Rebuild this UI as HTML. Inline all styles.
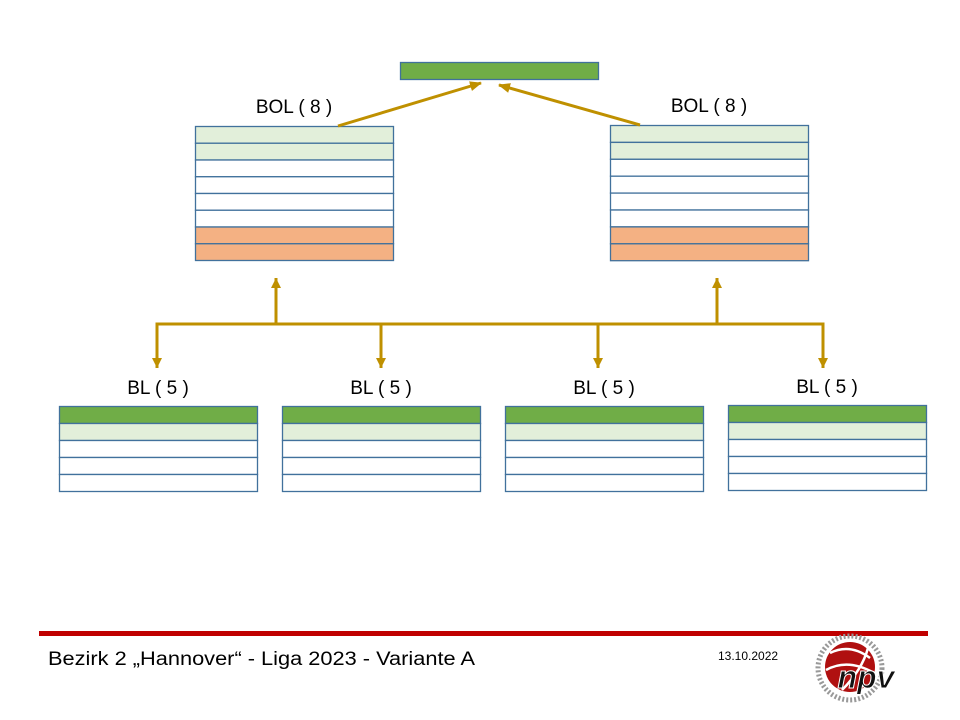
<!DOCTYPE html>
<html><head><meta charset="utf-8"><style>html,body{margin:0;padding:0;background:#fff}svg{display:block}</style></head>
<body>
<svg width="960" height="720" xmlns="http://www.w3.org/2000/svg" font-family="Liberation Sans, DejaVu Sans, sans-serif">
<defs>
<marker id="ah" markerWidth="12" markerHeight="10" refX="11" refY="5" orient="auto" markerUnits="userSpaceOnUse"><path d="M0,0 L12,5 L0,10 z" fill="#BF9000"/></marker>
<marker id="ah2" markerWidth="10" markerHeight="10" refX="10" refY="5" orient="auto" markerUnits="userSpaceOnUse"><path d="M0,0 L10,5 L0,10 z" fill="#BF9000"/></marker>
</defs>
<g stroke="#41719C" stroke-width="1.3">
<rect x="400.5" y="62.5" width="198" height="17" fill="#70AD47"/>
<rect x="195.5" y="126.5" width="198" height="16.75" fill="#E2EFDA"/>
<rect x="195.5" y="143.25" width="198" height="16.75" fill="#E2EFDA"/>
<rect x="195.5" y="160" width="198" height="16.75" fill="#fff"/>
<rect x="195.5" y="176.75" width="198" height="16.75" fill="#fff"/>
<rect x="195.5" y="193.5" width="198" height="16.75" fill="#fff"/>
<rect x="195.5" y="210.25" width="198" height="16.75" fill="#fff"/>
<rect x="195.5" y="227" width="198" height="16.75" fill="#F4B183"/>
<rect x="195.5" y="243.75" width="198" height="16.75" fill="#F4B183"/>
<rect x="610.5" y="125.5" width="198" height="16.9" fill="#E2EFDA"/>
<rect x="610.5" y="142.4" width="198" height="16.9" fill="#E2EFDA"/>
<rect x="610.5" y="159.3" width="198" height="16.9" fill="#fff"/>
<rect x="610.5" y="176.2" width="198" height="16.9" fill="#fff"/>
<rect x="610.5" y="193.1" width="198" height="16.9" fill="#fff"/>
<rect x="610.5" y="210" width="198" height="16.9" fill="#fff"/>
<rect x="610.5" y="226.9" width="198" height="16.9" fill="#F4B183"/>
<rect x="610.5" y="243.8" width="198" height="16.9" fill="#F4B183"/>
<g id="bl">
<rect x="59.5" y="406.5" width="198" height="17" fill="#70AD47"/>
<rect x="59.5" y="423.5" width="198" height="17" fill="#E2EFDA"/>
<rect x="59.5" y="440.5" width="198" height="17" fill="#fff"/>
<rect x="59.5" y="457.5" width="198" height="17" fill="#fff"/>
<rect x="59.5" y="474.5" width="198" height="17" fill="#fff"/>
</g>
<use href="#bl" x="223"/>
<use href="#bl" x="446"/>
<use href="#bl" x="669" y="-1"/>
</g>
<g stroke="#BF9000" stroke-width="3" fill="none">
<line x1="338" y1="126" x2="481" y2="83" marker-end="url(#ah)"/>
<line x1="640" y1="125" x2="499" y2="85" marker-end="url(#ah)"/>
<polyline points="157,360 157,324 823,324 823,360"/>
<line x1="157" y1="324" x2="157" y2="368" marker-end="url(#ah2)"/>
<line x1="381" y1="324" x2="381" y2="368" marker-end="url(#ah2)"/>
<line x1="598" y1="324" x2="598" y2="368" marker-end="url(#ah2)"/>
<line x1="823" y1="324" x2="823" y2="368" marker-end="url(#ah2)"/>
<line x1="276" y1="324" x2="276" y2="278" marker-end="url(#ah2)"/>
<line x1="717" y1="324" x2="717" y2="278" marker-end="url(#ah2)"/>
</g>
<g font-size="19" fill="#000" text-anchor="middle">
<text x="294" y="113">BOL ( 8 )</text>
<text x="709" y="112">BOL ( 8 )</text>
<text x="158" y="394">BL ( 5 )</text>
<text x="381" y="394">BL ( 5 )</text>
<text x="604" y="394">BL ( 5 )</text>
<text x="827" y="393">BL ( 5 )</text>
</g>
<rect x="39" y="631" width="889" height="5" fill="#C00000"/>
<text x="48" y="665" font-size="19" fill="#000" textLength="427" lengthAdjust="spacingAndGlyphs">Bezirk 2 „Hannover“ - Liga 2023 - Variante A</text>
<text x="718" y="660" font-size="12" fill="#000">13.10.2022</text>
<circle cx="850" cy="668" r="32" fill="none" stroke="#999" stroke-width="5" stroke-dasharray="2 2"/>
<circle cx="850" cy="667" r="25" fill="#B01010"/>
<path d="M830,653 Q850,643 870,658 M826,670 Q848,658 874,673 M842,690 Q862,670 868,648" stroke="#fff" stroke-width="2.5" fill="none"/>
<text x="866" y="688" font-size="32" font-weight="bold" font-style="italic" fill="#111" text-anchor="middle" stroke="#fff" stroke-width="1">npv</text>
</svg>
</body></html>
